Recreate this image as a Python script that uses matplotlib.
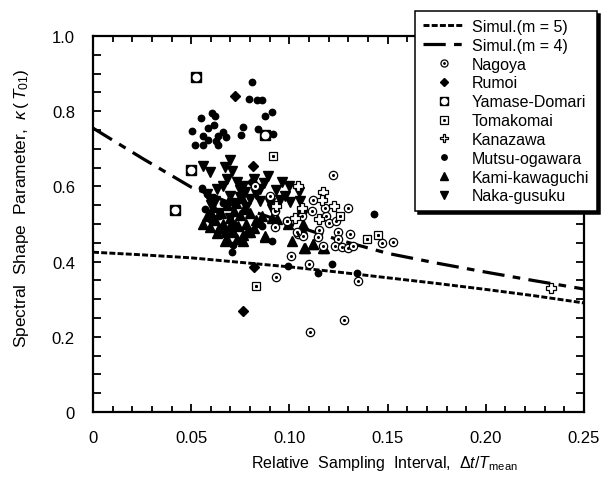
import matplotlib
matplotlib.use('Agg')
import matplotlib.pyplot as plt
from matplotlib.ticker import MultipleLocator, FixedLocator, FixedFormatter

plt.rcParams['font.family'] = ['Liberation Sans', 'DejaVu Sans']
plt.rcParams['mathtext.fontset'] = 'custom'
plt.rcParams['mathtext.rm'] = 'Liberation Sans'
plt.rcParams['mathtext.it'] = 'Liberation Sans:italic'
plt.rcParams['mathtext.bf'] = 'Liberation Sans:bold'
plt.rcParams['lines.scale_dashes'] = False

# ---------------- data ----------------
sim_x = [0, 0.025, 0.05, 0.075, 0.1, 0.125, 0.15, 0.175, 0.2, 0.225, 0.25]
sim_m5 = [0.425, 0.418, 0.41, 0.398, 0.386, 0.372, 0.357, 0.342, 0.326, 0.309, 0.29]
sim_m4 = [0.755, 0.675, 0.598, 0.545, 0.50, 0.458, 0.422, 0.396, 0.372, 0.349, 0.327]

nagoya_x = [0.1105, 0.1278, 0.0932, 0.1351, 0.1101, 0.1006, 0.122, 0.130, 0.1122, 0.1113,
            0.1186, 0.1203, 0.1249, 0.1309, 0.1152, 0.1249, 0.1232, 0.1266, 0.130, 0.1322,
            0.1173, 0.147, 0.1529, 0.099, 0.1045, 0.1071, 0.0901, 0.0927, 0.0825, 0.0927,
            0.1037, 0.1147, 0.1181, 0.0986, 0.1237, 0.1066]
nagoya_y = [0.214, 0.246, 0.358, 0.349, 0.394, 0.416, 0.629, 0.542, 0.565, 0.535,
            0.520, 0.503, 0.478, 0.473, 0.485, 0.460, 0.442, 0.440, 0.436, 0.442,
            0.441, 0.449, 0.453, 0.507, 0.473, 0.467, 0.575, 0.535, 0.602, 0.493,
            0.478, 0.465, 0.543, 0.509, 0.509, 0.520]

rumoi_x = [0.0723, 0.0816, 0.0810, 0.0821, 0.0765]
rumoi_y = [0.841, 0.653, 0.612, 0.385, 0.268]

yamase_x = [0.0524, 0.0497, 0.0418, 0.0876]
yamase_y = [0.891, 0.644, 0.538, 0.737]

tomakomai_x = [0.0917, 0.0828, 0.1258, 0.1397, 0.1453]
tomakomai_y = [0.681, 0.334, 0.522, 0.460, 0.472]

kanazawa_x = [0.0930, 0.1045, 0.1170, 0.1164, 0.1227, 0.1063, 0.1029, 0.1152, 0.2330]
kanazawa_y = [0.549, 0.600, 0.584, 0.565, 0.549, 0.542, 0.516, 0.513, 0.330]

mutsu_x = [0.0808, 0.0796, 0.0833, 0.0862, 0.0913, 0.0876, 0.0607, 0.0621, 0.0550, 0.0617,
           0.0583, 0.0502, 0.0660, 0.0562, 0.0638, 0.0675, 0.0587, 0.0625, 0.0519, 0.0558,
           0.0638, 0.0765, 0.0754, 0.0842, 0.0915, 0.0706, 0.0714, 0.0910, 0.0859, 0.0994,
           0.0553, 0.1215, 0.1147, 0.1343, 0.1432, 0.0580, 0.0620, 0.0660, 0.0570, 0.0720,
           0.0640, 0.0600]
mutsu_y = [0.877, 0.832, 0.830, 0.830, 0.799, 0.786, 0.794, 0.786, 0.781, 0.764,
           0.754, 0.748, 0.745, 0.733, 0.733, 0.732, 0.723, 0.721, 0.710, 0.710,
           0.710, 0.757, 0.737, 0.753, 0.739, 0.425, 0.445, 0.456, 0.494, 0.389,
           0.595, 0.394, 0.369, 0.369, 0.527, 0.580, 0.570, 0.555, 0.540, 0.500,
           0.520, 0.510]

kami_x = [0.0596, 0.0698, 0.0680, 0.0731, 0.0783, 0.0765, 0.0876, 0.0935, 0.0910, 0.0994,
          0.1071, 0.1062, 0.1012, 0.1076, 0.1122, 0.1173, 0.1079, 0.1118, 0.1176, 0.0876,
          0.0800, 0.0765, 0.0714, 0.0672, 0.0580, 0.0620, 0.0650, 0.0610, 0.0660, 0.0700,
          0.0720, 0.0750, 0.0640, 0.0680, 0.0730, 0.0770, 0.0800, 0.0830, 0.0860, 0.0630,
          0.0670, 0.0710, 0.0560, 0.0600, 0.0740, 0.0780, 0.0820, 0.0850, 0.0690, 0.0760]
kami_y = [0.491, 0.496, 0.460, 0.460, 0.478, 0.456, 0.469, 0.513, 0.517, 0.500,
          0.500, 0.487, 0.454, 0.436, 0.447, 0.436, 0.435, 0.447, 0.435, 0.466,
          0.478, 0.470, 0.478, 0.456, 0.520, 0.510, 0.530, 0.545, 0.500, 0.515,
          0.535, 0.525, 0.490, 0.550, 0.555, 0.540, 0.530, 0.510, 0.520, 0.475,
          0.480, 0.485, 0.500, 0.530, 0.495, 0.500, 0.490, 0.505, 0.565, 0.570]

naka_x = [0.0562, 0.0596, 0.0698, 0.0706, 0.0672, 0.0680, 0.0893, 0.0960, 0.0765, 0.0850,
          0.0800, 0.0850, 0.0978, 0.1003, 0.1054, 0.0910, 0.1062, 0.0748, 0.0731, 0.0630,
          0.0596, 0.0698, 0.0774, 0.1000, 0.1050, 0.0820, 0.0870, 0.0930, 0.0580, 0.0620,
          0.0660, 0.0720, 0.0780, 0.0640, 0.0700, 0.0750, 0.0600, 0.0830, 0.0900, 0.0950]
naka_y = [0.655, 0.637, 0.669, 0.642, 0.651, 0.620, 0.628, 0.611, 0.602, 0.593,
          0.566, 0.562, 0.575, 0.558, 0.562, 0.540, 0.522, 0.571, 0.611, 0.593,
          0.566, 0.575, 0.584, 0.600, 0.585, 0.620, 0.610, 0.590, 0.580, 0.560,
          0.600, 0.555, 0.545, 0.530, 0.515, 0.590, 0.550, 0.580, 0.555, 0.565]

x_ticks = [0, 0.05, 0.10, 0.15, 0.20, 0.25]
x_ticklabels = ['0', '0.05', '0.10', '0.15', '0.20', '0.25']
y_ticks = [0, 0.2, 0.4, 0.6, 0.8, 1.0]
y_ticklabels = ['0', '0.2', '0.4', '0.6', '0.8', '1.0']

# ---------------- figure ----------------
fig = plt.figure(figsize=(6.13, 4.81), dpi=100)
ax = fig.add_axes([93/613, 1-413/481, 491/613, 376/481])

l5, = ax.plot(sim_x, sim_m5, color='k', lw=2.1, dashes=(4.3, 1.6), zorder=2)
l4, = ax.plot(sim_x, sim_m4, color='k', lw=2.3, dashes=(16, 6, 5.5, 6), zorder=2)

ms_c = 6.0
common = dict(ls='none', zorder=4)
mutsu, = ax.plot(mutsu_x, mutsu_y, marker='o', ms=4.6, mfc='k', mec='k', **common)
kami, = ax.plot(kami_x, kami_y, marker='^', ms=7.0, mfc='k', mec='k', **common)
naka, = ax.plot(naka_x, naka_y, marker='v', ms=7.0, mfc='k', mec='k', **common)
rumoi, = ax.plot(rumoi_x, rumoi_y, marker='D', ms=5.0, mfc='k', mec='k', **common)

nag_c, = ax.plot(nagoya_x, nagoya_y, marker='o', ms=ms_c, mfc='white', mec='k', mew=0.9,
                 ls='none', zorder=5)
nag_d, = ax.plot(nagoya_x, nagoya_y, marker='o', ms=1.2, mfc='k', mec='k',
                 ls='none', zorder=5.1)
tom_s, = ax.plot(tomakomai_x, tomakomai_y, marker='s', ms=6.2, mfc='white', mec='k', mew=0.9,
                 ls='none', zorder=5)
tom_d, = ax.plot(tomakomai_x, tomakomai_y, marker='s', ms=1.2, mfc='k', mec='k',
                 ls='none', zorder=5.1)
kan, = ax.plot(kanazawa_x, kanazawa_y, marker='P', ms=7.5, mfc='white', mec='k', mew=0.9,
               ls='none', zorder=5)
yam_s, = ax.plot(yamase_x, yamase_y, marker='s', ms=7.0, mfc='k', mec='k',
                 ls='none', zorder=5)
yam_c, = ax.plot(yamase_x, yamase_y, marker='o', ms=4.6, mfc='white', mec='white',
                 ls='none', zorder=5.1)

ax.set_xlim(0, 0.25)
ax.set_ylim(0, 1.0)
ax.xaxis.set_major_locator(FixedLocator(x_ticks))
ax.xaxis.set_major_formatter(FixedFormatter(x_ticklabels))
ax.xaxis.set_minor_locator(MultipleLocator(0.01))
ax.yaxis.set_major_locator(FixedLocator(y_ticks))
ax.yaxis.set_major_formatter(FixedFormatter(y_ticklabels))
ax.yaxis.set_minor_locator(MultipleLocator(0.05))
ax.tick_params(which='both', direction='in', top=True, right=True, width=1.3,
               labelsize=12, pad=13)
ax.tick_params(which='major', length=6)
ax.tick_params(which='minor', length=4)
ax.tick_params(axis='y', which='minor', length=5.5)
for s in ax.spines.values():
    s.set_linewidth(1.6)

ax.set_xlabel(r'Relative  Sampling  Interval,  $\Delta t/T_{\rm mean}$', fontsize=11.5)
ax.xaxis.set_label_coords(0.594, -0.108)
ax.set_ylabel(r'Spectral  Shape  Parameter,  $\kappa\,(\,T_{01})$', fontsize=12.5)
ax.yaxis.set_label_coords(-0.126, 0.545)

handles = [l5, l4, (nag_c, nag_d), rumoi, (yam_s, yam_c), (tom_s, tom_d), kan, mutsu, kami, naka]
labels = ['Simul.(m = 5)', 'Simul.(m = 4)', 'Nagoya', 'Rumoi', 'Yamase-Domari', 'Tomakomai',
          'Kanazawa', 'Mutsu-ogawara', 'Kami-kawaguchi', 'Naka-gusuku']
leg = fig.legend(handles, labels, loc='upper right',
                 bbox_to_anchor=(597/613, 1-12/481), bbox_transform=fig.transFigure,
                 fontsize=11.5, frameon=True, fancybox=False, edgecolor='k',
                 shadow={'color': 'k', 'alpha': 1.0}, handlelength=2.6,
                 labelspacing=0.24, borderpad=0.5, handletextpad=0.45,
                 borderaxespad=0.0, markerscale=0.85)
leg.get_frame().set_linewidth(1.1)
leg.set_zorder(10)

fig.savefig('out.png', dpi=100)
